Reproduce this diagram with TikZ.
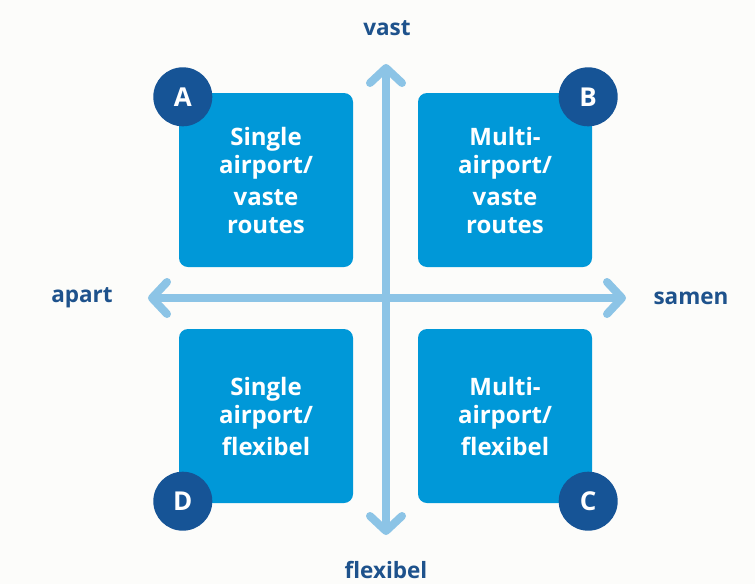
\documentclass[tikz,border=0pt]{standalone}
\usepackage{fontspec}
\setmainfont{Open Sans}
\usepackage{tikz}
\usetikzlibrary{arrows.meta,positioning}
\usepackage{xcolor}
\definecolor{qdbg}{RGB}{252,252,250}
\definecolor{qdbox}{RGB}{0,152,216}
\definecolor{qdcircle}{RGB}{22,84,150}
\definecolor{qdaxis}{RGB}{140,196,230}
\definecolor{qdlabel}{RGB}{30,82,140}
\tikzstyle{axis} = [line width=8pt,line cap=round,color=qdaxis,{Straight Barb[length=15pt,width=32pt,line cap=round,line join=round]}-{Straight Barb[length=15pt,width=32pt,line cap=round,line join=round]}]
\tikzstyle{quadrant} = [rectangle, rounded corners=9pt, minimum width=174pt, minimum height=174pt, text centered, align=center, fill=qdbox, text=white, font=\bfseries\fontsize{24}{28}\selectfont]
\tikzstyle{badge} = [circle, minimum size=59pt, inner sep=0pt, fill=qdcircle, text=white, font=\bfseries\fontsize{26}{26}\selectfont]
\tikzstyle{axislabel} = [text=qdlabel, font=\bfseries\fontsize{22.5}{22.5}\selectfont]

\begin{document}
\begin{tikzpicture}[x=1pt,y=-1pt]
\useasboundingbox[fill=qdbg] (0,0) rectangle (755,584);

% Axes
\coordinate (top) at (386,64);
\coordinate (bottom) at (386,535);
\coordinate (left) at (148,298);
\coordinate (right) at (626,298);
\draw[axis] (left) -- (right);
\draw[axis] (bottom) -- (top);

% Four quadrants
\node[quadrant] (qa) at (266,180) {Single\\airport/\\[4pt]vaste\\routes};
\node[quadrant] (qb) at (505,180) {Multi-\\airport/\\[4pt]vaste\\routes};
\node[quadrant] (qd) at (266,416) {Single\\airport/\\[4pt]flexibel};
\node[quadrant] (qc) at (505,416) {Multi-\\airport/\\[4pt]flexibel};

% Badges
\node[badge] (ba) at (qa.north west) [xshift=4pt,yshift=-4pt] {A};
\node[badge] (bb) at (qb.north east) [xshift=-4pt,yshift=-4pt] {B};
\node[badge] (bd) at (qd.south west) [xshift=4pt,yshift=2pt] {D};
\node[badge] (bc) at (qc.south east) [xshift=-4pt,yshift=2pt] {C};

% Axis labels
\node[axislabel] (vast) at (387,28) {vast};
\node[axislabel] (flexibel) at (386,570) {flexibel};
\node[axislabel] (apart) at (82,298) {apart};
\node[axislabel] (samen) at (691,298) {samen};
\end{tikzpicture}
\end{document}
